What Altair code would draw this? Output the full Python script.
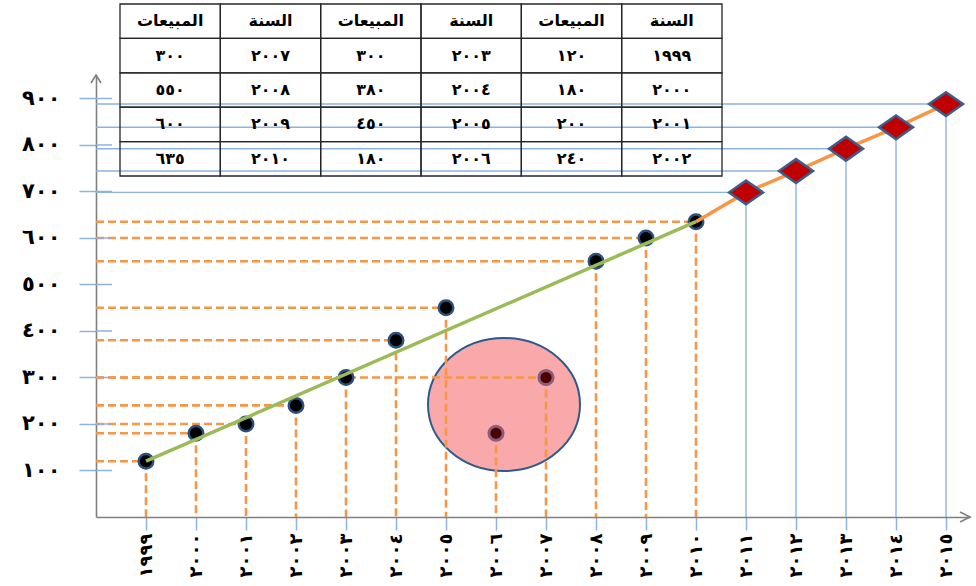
import json
import altair as alt
import pandas as pd

# Annual sales 1999-2010
years = [1999, 2000, 2001, 2002, 2003, 2004, 2005, 2006, 2007, 2008, 2009, 2010]
sales = [120, 180, 200, 240, 300, 380, 450, 180, 300, 550, 600, 635]
outlier_years = [2006, 2007]
no_hguide_years = [2006]

# Projected sales along the trend
forecast_years = [2011, 2012, 2013, 2014, 2015]
forecast_sales = [698, 744, 792, 838, 888]

# Highlight around the off-trend years
highlight_year = [2006.16]
highlight_value = [242]

# Axis ticks and their Arabic-Indic labels
x_ticks = list(range(1999, 2016))
x_tick_labels = ["١٩٩٩", "٢٠٠٠", "٢٠٠١", "٢٠٠٢", "٢٠٠٣", "٢٠٠٤", "٢٠٠٥", "٢٠٠٦", "٢٠٠٧",
                 "٢٠٠٨", "٢٠٠٩", "٢٠١٠", "٢٠١١", "٢٠١٢", "٢٠١٣", "٢٠١٤", "٢٠١٥"]
y_ticks = [100, 200, 300, 400, 500, 600, 700, 800, 900]
y_tick_labels = ["١٠٠", "٢٠٠", "٣٠٠", "٤٠٠", "٥٠٠", "٦٠٠", "٧٠٠", "٨٠٠", "٩٠٠"]

header_year = "السنة"
header_sales = "المبيعات"

AR_DIGITS = str.maketrans("0123456789", "٠١٢٣٤٥٦٧٨٩")


def ar(n):
    return str(n).translate(AR_DIGITS)


FONT = "DejaVu Sans"
ORANGE = "#F79646"
GREEN = "#9BBB59"
LIGHT_BLUE = "#8DB3E2"
AXIS_GRAY = "#7F7F7F"

x_min, x_max = 1998, 2015.48
y_max = 950.5

hist = pd.DataFrame({"year": years, "value": sales})
fc = pd.DataFrame({"year": forecast_years, "value": forecast_sales})
fc_line = pd.concat([hist.tail(1), fc], ignore_index=True)
hl = pd.DataFrame({"year": highlight_year, "value": highlight_value})
yt = pd.DataFrame({"value": y_ticks})

# Horizontal guide segments, each running from the y axis out to its point
hseg_rows = []
for yr, v in zip(years, sales):
    if yr in no_hguide_years:
        continue
    hseg_rows.append({"seg": yr, "year": x_min, "value": v})
    hseg_rows.append({"seg": yr, "year": yr, "value": v})
hseg = pd.DataFrame(hseg_rows)

xs = alt.Scale(domain=[x_min, x_max], nice=False, zero=False)
ys = alt.Scale(domain=[0, y_max], nice=False)

x_axis = alt.Axis(
    values=x_ticks,
    labelExpr=f"{json.dumps(x_tick_labels, ensure_ascii=False)}[indexof({json.dumps(x_ticks)}, datum.value)]",
    labelAngle=270, labelFont=FONT, labelFontSize=18, labelFontWeight="bold",
    labelColor="black", labelPadding=3, labelFlush=False, labelOverlap=False, labelBound=False,
    tickSize=13, tickColor=LIGHT_BLUE, tickWidth=1.5,
    domainColor=AXIS_GRAY, domainWidth=1.6, grid=False, title=None,
)
y_axis = alt.Axis(
    values=y_ticks,
    labelExpr=f"{json.dumps(y_tick_labels, ensure_ascii=False)}[indexof({json.dumps(y_ticks)}, datum.value)]",
    labelFont=FONT, labelFontSize=21, labelFontWeight="bold", labelColor="black",
    labelPadding=19, labelFlush=False, labelOverlap=False,
    tickSize=17, tickColor=LIGHT_BLUE, tickWidth=1.5,
    domainColor=AXIS_GRAY, domainWidth=1.6, grid=False, title=None,
)


def X(field="year"):
    return alt.X(f"{field}:Q", scale=xs, axis=x_axis, title=None)


def Y(field="value"):
    return alt.Y(f"{field}:Q", scale=ys, axis=y_axis, title=None)


# Highlight ellipse around the two off-trend years
ellipse = alt.Chart(hl).mark_point(
    shape="M -1 0 A 1 0.875 0 1 1 1 0 A 1 0.875 0 1 1 -1 0 Z",
    size=23104, filled=True, fill="#F9A9A9", fillOpacity=1,
    stroke="#2E5A8C", strokeWidth=2, opacity=1,
).encode(x=X(), y=Y())

# Blue guides for the projected years
fc_h = alt.Chart(fc).mark_rule(color=LIGHT_BLUE, strokeWidth=1.4).encode(
    x=X(), x2=alt.datum(x_min), y=Y())
fc_v = alt.Chart(fc).mark_rule(color=LIGHT_BLUE, strokeWidth=1.4).encode(
    x=X(), y=Y(), y2=alt.datum(0))

# Orange dashed guides for the observed years
hist_h = alt.Chart(hseg).mark_line(color=ORANGE, strokeWidth=2.6, strokeDash=[8, 4]).encode(
    x=X(), y=Y(), detail="seg:N")
hist_v = alt.Chart(hist).mark_rule(color=ORANGE, strokeWidth=2.6, strokeDash=[8, 4]).encode(
    x=X(), y=Y(), y2=alt.datum(0))

# Inner half of the y-axis ticks
y_inner = alt.Chart(yt).mark_rule(color=LIGHT_BLUE, strokeWidth=1.5).encode(
    y=Y(), x=alt.datum(x_min), x2=alt.datum(x_min + 0.32))

pts_normal = alt.Chart(hist).transform_filter(
    ~alt.FieldOneOfPredicate(field="year", oneOf=outlier_years)
).mark_point(shape="circle", size=210, filled=True, fill="black", fillOpacity=1,
             stroke="#2C4F7C", strokeWidth=2.5, opacity=1).encode(x=X(), y=Y())
pts_out = alt.Chart(hist).transform_filter(
    alt.FieldOneOfPredicate(field="year", oneOf=outlier_years)
).mark_point(shape="circle", size=200, filled=True, fill="#4D0000", fillOpacity=1,
             stroke="#8A5C7E", strokeWidth=3, opacity=1).encode(x=X(), y=Y())

# Trend through the observed period, then the projection
trend = alt.Chart(hist).transform_filter(
    alt.FieldOneOfPredicate(field="year", oneOf=[years[0], years[-1]])
).mark_line(color=GREEN, strokeWidth=3.5).encode(x=X(), y=Y())
proj = alt.Chart(fc_line).mark_line(color=ORANGE, strokeWidth=3.5).encode(x=X(), y=Y())

diamonds = alt.Chart(fc).mark_point(
    shape="M -1 0 L 0 -0.7 L 1 0 L 0 0.7 Z", size=1156, filled=True,
    fill="#C00000", fillOpacity=1, stroke="#3B5E8C", strokeWidth=2.5, opacity=1,
).encode(x=X(), y=Y())

# Arrowheads on the axes
arrow_up = alt.Chart(hl).mark_point(
    shape="M -0.625 1 L 0 0 L 0.625 1", size=256, filled=False,
    stroke=AXIS_GRAY, strokeWidth=1.6, opacity=1,
).encode(x=alt.datum(x_min), y=alt.datum(y_max))
arrow_right = alt.Chart(hl).mark_point(
    shape="M -1 -0.5 L 0 0 L -1 0.5", size=400, filled=False,
    stroke=AXIS_GRAY, strokeWidth=1.6, opacity=1,
).encode(x=alt.datum(x_max), y=alt.datum(0))

main = alt.layer(
    ellipse, fc_h, fc_v, hist_h, hist_v, y_inner,
    pts_normal, pts_out, trend, proj, diamonds, arrow_up, arrow_right,
)

# Data table: pairs of (year, sales) columns, read right to left
cells = []
for c in range(6):
    k = (5 - c) // 2
    is_year = (5 - c) % 2 == 0
    cells.append({"col": c, "row": 0, "text": header_year if is_year else header_sales, "head": 1})
    for r in range(4):
        i = 4 * k + r
        cells.append({"col": c, "row": r + 1,
                      "text": ar(years[i]) if is_year else ar(sales[i]), "head": 0})
cells = pd.DataFrame(cells)

tx_scale = alt.Scale(domain=[0, 6], range=[24, 626], nice=False, zero=False)
ty_scale = alt.Scale(domain=[0, 5], range=[-71, 101], nice=False, zero=False)

table_grid = alt.Chart(cells).transform_calculate(
    col2="datum.col + 1", row2="datum.row + 1"
).mark_rect(fill="white", fillOpacity=0, stroke="#262626", strokeWidth=1.3).encode(
    x=alt.X("col:Q", scale=tx_scale, axis=None),
    x2="col2:Q",
    y=alt.Y("row:Q", scale=ty_scale, axis=None),
    y2="row2:Q",
)
table_text = alt.Chart(cells).transform_calculate(
    cx="datum.col + 0.5", cy="datum.row + 0.5"
).mark_text(font=FONT, fontSize=16, fontWeight="bold", color="black",
            align="center", baseline="middle").encode(
    x=alt.X("cx:Q", scale=tx_scale, axis=None),
    y=alt.Y("cy:Q", scale=ty_scale, axis=None),
    text="text:N",
)
table = alt.layer(table_grid, table_text)

chart = alt.layer(main, table).resolve_scale(
    x="independent", y="independent"
).properties(
    width=874, height=442,
    autosize=alt.AutoSizeParams(type="none"),
    padding={"left": 96, "top": 75, "right": 6, "bottom": 69},
    background="white",
).configure_view(stroke=None)

chart.save("out.html", embed_options={"renderer": "svg", "actions": False})
